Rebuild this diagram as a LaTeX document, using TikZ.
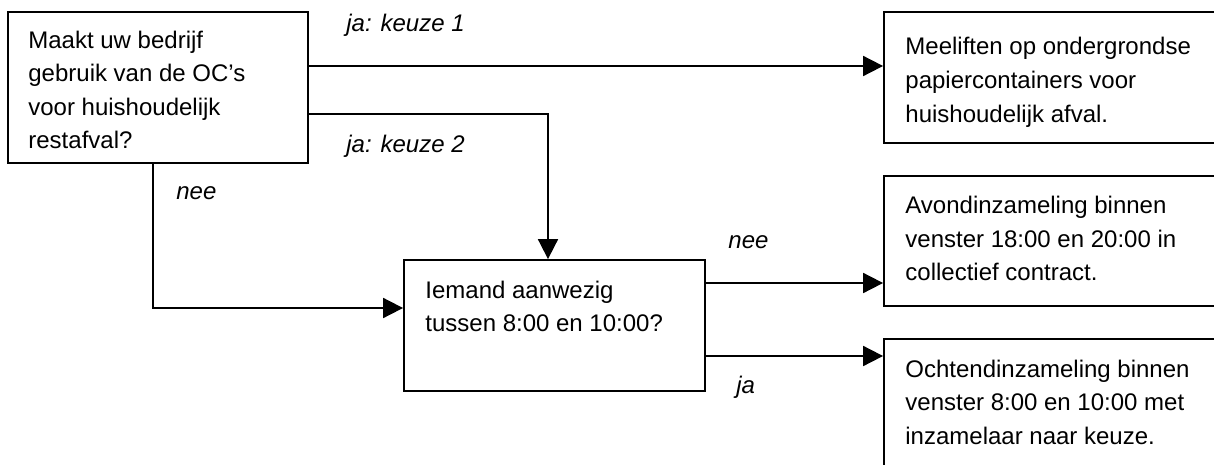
\documentclass[tikz,border=0pt]{standalone}
\usepackage{fontspec}
\setmainfont{Liberation Sans}
\usetikzlibrary{arrows.meta,fit}
\newcommand\boxlines[1]{\parbox[t]{200pt}{\raggedright #1}}
\begin{document}
\begin{tikzpicture}[x=0.5pt,y=-0.5pt,
  box/.style={draw, line width=0.9pt, inner sep=0pt},
  txt/.style={inner sep=0pt, anchor=base west, font=\fontsize{12}{16.75}\selectfont},
  lbl/.style={inner sep=0pt, anchor=base west, font=\fontsize{12}{14}\selectfont\itshape},
  arr/.style={-{Triangle[length=10pt,width=10pt]}, line width=0.9pt}]
\useasboundingbox (0,0) rectangle (1214,465);
\clip (0,0) rectangle (1214,465);
% boxes
\node[box, fit={(8,12)(308,163)}] (q1) {};
\node[box, fit={(404,260)(705,391)}] (q2) {};
\node[box, fit={(884,12)(1230,143)}] (r1) {};
\node[box, fit={(884,176)(1230,306)}] (r2) {};
\node[box, fit={(884,339)(1230,490)}] (r3) {};
% texts
\node[txt] (t1) at (28,48.5) {\boxlines{Maakt uw bedrijf\\gebruik van de OC’s\\voor huishoudelijk\\restafval?}};
\node[txt] (t2) at (425,298) {\boxlines{Iemand aanwezig\\tussen 8:00 en 10:00?}};
\node[txt] (t3) at (905,55) {\boxlines{Meeliften op ondergrondse\\papiercontainers voor\\huishoudelijk afval.}};
\node[txt] (t4) at (905,213.5) {\boxlines{Avondinzameling binnen\\venster 18:00 en 20:00 in\\collectief contract.}};
\node[txt] (t5) at (905,377) {\boxlines{Ochtendinzameling binnen\\venster 8:00 en 10:00 met\\inzamelaar naar keuze.}};
% helper coordinates
\coordinate (y66) at (0,66);
\coordinate (y114) at (0,114);
\coordinate (y308) at (0,308);
\coordinate (y283) at (0,283);
\coordinate (y356) at (0,356);
\coordinate (x548) at (548,0);
\coordinate (x153) at (153,0);
% connectors
\draw[arr] (q1.east |- y66) -- (r1.west |- y66);
\draw[arr] (q1.east |- y114) -| (q2.north -| x548);
\draw[arr] (q1.south -| x153) |- (q2.west |- y308);
\draw[arr] (q2.east |- y283) -- (r2.west |- y283);
\draw[arr] (q2.east |- y356) -- (r3.west |- y356);
% labels
\node[lbl] (l1) at (346,32) {ja: keuze 1};
\node[lbl] (l2) at (346,152) {ja: keuze 2};
\node[lbl] (l3) at (176,199) {nee};
\node[lbl] (l4) at (728,248) {nee};
\node[lbl] (l5) at (736,393) {ja};
\end{tikzpicture}
\end{document}
